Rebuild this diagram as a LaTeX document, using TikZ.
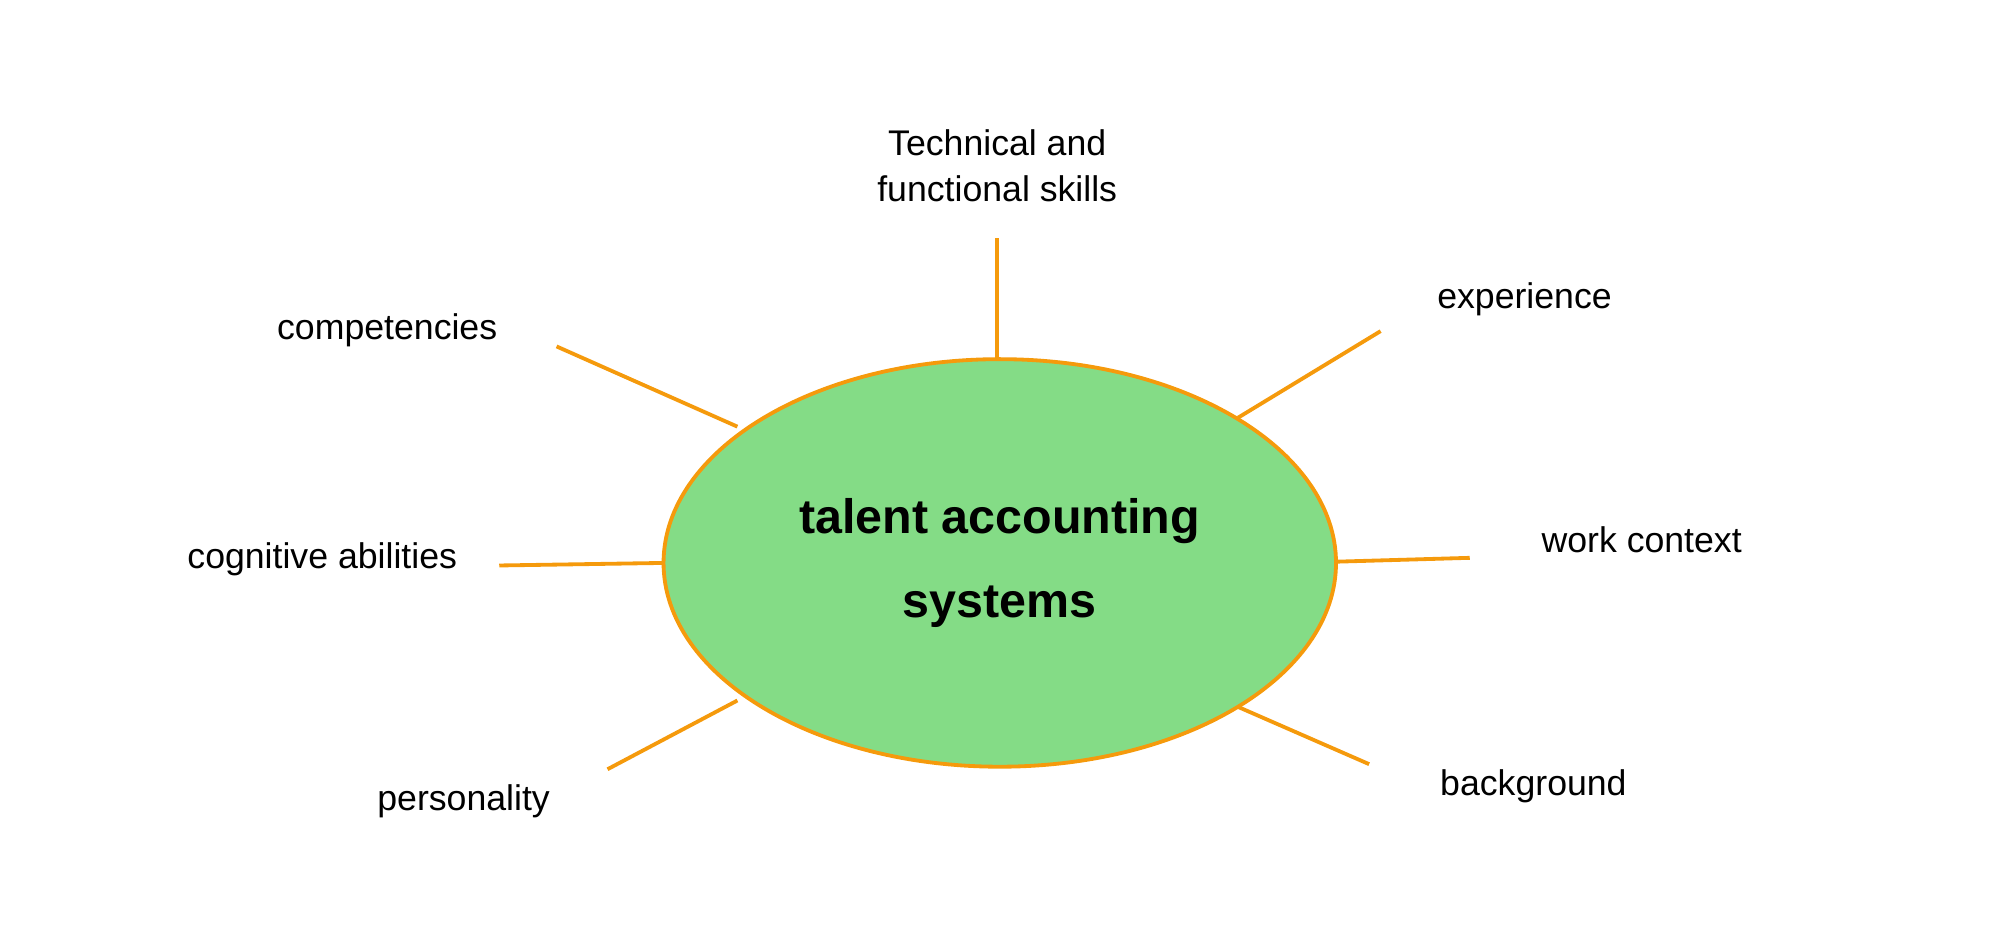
\documentclass[tikz,border=0pt]{standalone}
\usepackage{fontspec}
\setmainfont{Liberation Sans}
\usetikzlibrary{shapes.geometric}
\definecolor{og}{HTML}{F59A0C}
\definecolor{gr}{HTML}{84DC86}
\tikzset{lbl/.style={font=\fontsize{14}{18}\selectfont, align=center, inner sep=0pt},
 spoke/.style={draw=og, line width=1.5pt}}
\begin{document}
\begin{tikzpicture}[x=0.5pt,y=-0.5pt]
\useasboundingbox (0,0) rectangle (1568,738);
\node[ellipse, draw=og, line width=1.5pt, fill=gr, minimum width=528pt*0.5, minimum height=320pt*0.5, inner sep=0pt,
  font=\fontsize{19}{33}\selectfont\bfseries, align=center] (c) at (785,442) {talent accounting\\systems};
\node[lbl] (t1) at (783,130) {Technical and\\functional skills};
\node[lbl] (t2) at (1197,235) {experience};
\node[lbl] (t3) at (1289,424) {work context};
\node[lbl] (t4) at (1204,617) {background};
\node[lbl] (t5) at (364,629) {personality};
\node[lbl] (t6) at (253,439) {cognitive abilities};
\node[lbl] (t7) at (304,259) {competencies};
\coordinate (a1) at (783,187); \coordinate (b1) at (783,282);
\coordinate (a2) at (1084,260); \coordinate (b2) at (972,328);
\coordinate (a3) at (1154,438); \coordinate (b3) at (1050,441);
\coordinate (a4) at (1075,600); \coordinate (b4) at (972,555);
\coordinate (a5) at (477,604); \coordinate (b5) at (579,550);
\coordinate (a6) at (392,444); \coordinate (b6) at (521,442);
\coordinate (a7) at (437,272); \coordinate (b7) at (579,335);
\foreach \i in {1,...,7} {\draw[spoke] (a\i) -- (b\i);}
\end{tikzpicture}
\end{document}
